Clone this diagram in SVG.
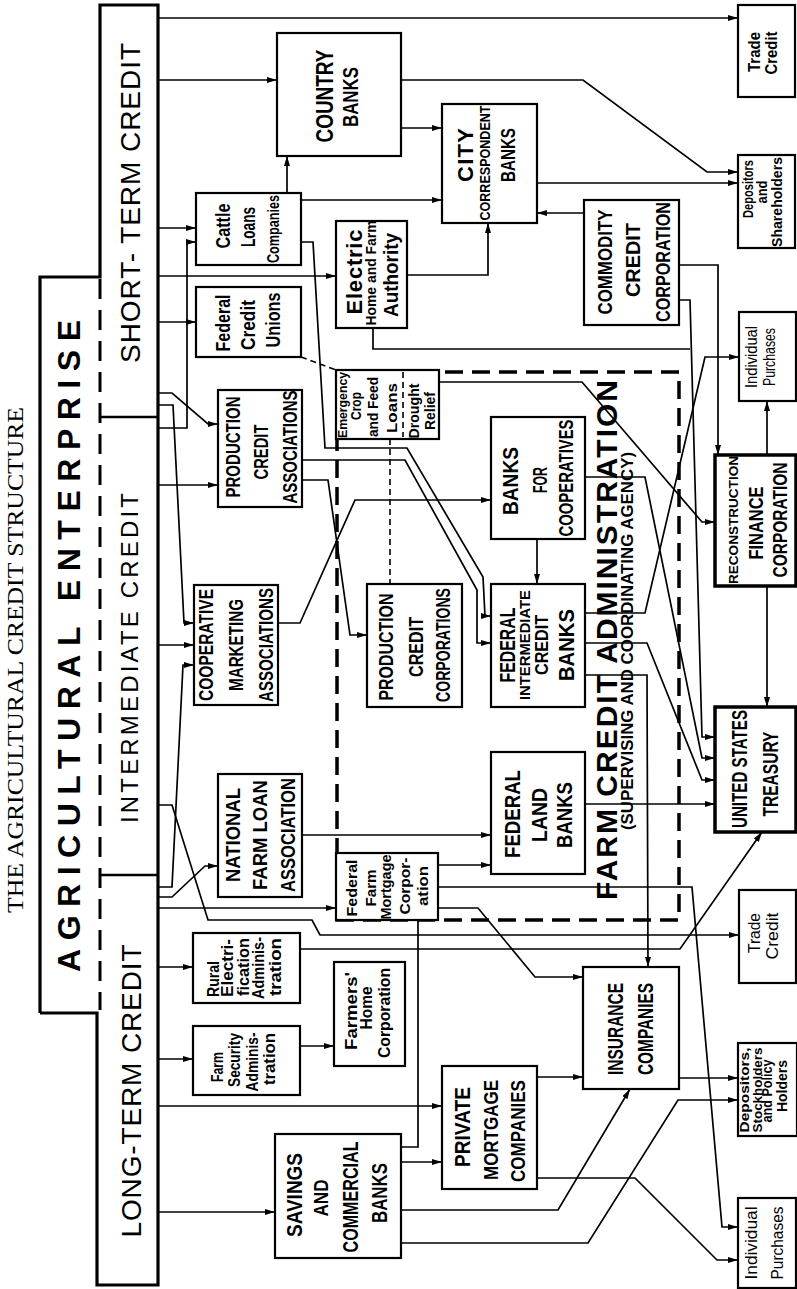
<svg xmlns="http://www.w3.org/2000/svg" width="797" height="1289" viewBox="0 0 797 1289">
<style>
.t{font-family:"Liberation Sans",Arial,sans-serif;text-anchor:middle;fill:#000}
.b{font-weight:bold}
.box{fill:#fff;stroke:#000;stroke-width:2.2}
.thick{stroke-width:3.5}
.c{fill:none;stroke:#000;stroke-width:1.7;marker-end:url(#a)}
.cn{fill:none;stroke:#000;stroke-width:1.7}
.d{fill:none;stroke:#000;stroke-width:1.6;stroke-dasharray:6 4}
</style>
<defs>
<marker id="a" viewBox="0 0 10 6" refX="10" refY="3" markerWidth="10" markerHeight="6" markerUnits="userSpaceOnUse" orient="auto"><path d="M0,0 L10,3 L0,6 Z" fill="#000"/></marker>
</defs>
<rect width="797" height="1289" fill="#fff"/>

<text font-family="Liberation Serif,Times New Roman,serif" font-size="23" text-anchor="middle" textLength="506" lengthAdjust="spacingAndGlyphs" transform="translate(23,660) rotate(-90)">THE AGRICULTURAL CREDIT STRUCTURE</text>

<g id="enterprise">
<path d="M40,1013 V277 H100 V5 H158 V1285 H97 V1013 H40" fill="none" stroke="#000" stroke-width="3.2"/>
<path d="M100,279 V1010" fill="none" stroke="#000" stroke-width="3" stroke-dasharray="20 11"/>
<path d="M100,417 H158 M100,875 H158" fill="none" stroke="#000" stroke-width="2.5"/>
<text class="t b" font-size="32" textLength="652" lengthAdjust="spacing" transform="translate(80,646) rotate(-90)">AGRICULTURAL ENTERPRISE</text>
<text class="t" font-size="28" textLength="320" lengthAdjust="spacing" transform="translate(140,203) rotate(-90)">SHORT- TERM CREDIT</text>
<text class="t" font-size="24" textLength="330" lengthAdjust="spacing" transform="translate(138,658) rotate(-90)">INTERMEDIATE CREDIT</text>
<text class="t" font-size="28" textLength="293" lengthAdjust="spacing" transform="translate(141,1091) rotate(-90)">LONG-TERM CREDIT</text>
</g>

<g id="fca">
<path d="M337,372 H679 V920 H337 Z" fill="none" stroke="#000" stroke-width="3.5" stroke-dasharray="18 9"/>
</g>

<g id="connectors">
<path class="c" d="M158,18 H738"/>
<path class="c" d="M158,80 H277"/>
<path class="c" d="M158,228 H196"/>
<path class="c" d="M158,276 H336"/>
<path class="c" d="M158,322 H196"/>
<path class="c" d="M158,428 H187 V242 H196"/>
<path class="c" d="M158,393 H172 L208,424 H218"/>
<path class="c" d="M158,405 H173 L184,623 H194"/>
<path class="c" d="M158,485 H218"/>
<path class="c" d="M158,645 H194"/>
<path class="c" d="M158,887 H172 L183,665 H194"/>
<path class="c" d="M158,897 H172 L205,866 H218"/>
<path class="c" d="M158,908 H336"/>
<path class="c" d="M158,805 H172 L208,920 H312 L320,935 H739"/>
<path class="c" d="M158,967 H193"/>
<path class="c" d="M158,1059 H193"/>
<path class="c" d="M158,1106 H442"/>
<path class="c" d="M158,1212 H275"/>
<path class="c" d="M401,80 H583 L707,172 H738"/>
<path class="c" d="M401,128 H442"/>
<path class="c" d="M287,193 V156"/>
<path class="c" d="M301,200 H442"/>
<path class="c" d="M301,242 H313 L325,448 H407 L483,577 L485,616 H491"/>
<path class="c" d="M302,460 H405 L477,590 V643 H491"/>
<path class="c" d="M302,480 H328 L350,635 H367"/>
<path class="c" d="M278,623 H300 L355,500 H491"/>
<path class="c" d="M537,539 V584"/>
<path class="c" d="M585,477 H645 L702,758 H715"/>
<path class="c" d="M585,613 H645 L705,357 H739"/>
<path class="c" d="M585,643 H647 L702,780 H715"/>
<path class="c" d="M585,675 H647 L648,967"/>
<path class="c" d="M407,275 H488 V223"/>
<path class="cn" d="M373,328 V349 H690"/>
<path class="c" d="M679,300 H690 L702,737 H715"/>
<path class="c" d="M679,265 H718 V455"/>
<path class="c" d="M584,213 H537"/>
<path class="c" d="M537,183 H738"/>
<path class="d" d="M301,357 L336,370"/>
<path class="d" d="M390,439 V584"/>
<path class="c" d="M439,382 H582 L702,522 H715"/>
<path class="c" d="M767,455 V401"/>
<path class="c" d="M767,586 V707"/>
<path class="c" d="M585,804 H715"/>
<path class="c" d="M302,835 H491"/>
<path class="c" d="M438,865 H491"/>
<path class="c" d="M438,887 H692 L722,1227 H738"/>
<path class="c" d="M438,908 H478 L535,977 H583"/>
<path class="cn" d="M418,920 V1147 H401"/>
<path class="c" d="M300,949 H680 L762,832"/>
<path class="c" d="M300,1046 H334"/>
<path class="c" d="M537,1077 H583"/>
<path class="c" d="M537,1178 H635 L717,1260 H738"/>
<path class="c" d="M679,1078 H738"/>
<path class="c" d="M401,1162 H442"/>
<path class="c" d="M401,1210 H558 L630,1089"/>
<path class="c" d="M401,1243 H588 L678,1100 H738"/>
</g>

<g id="trade-credit-1"><rect class="box" x="738" y="5" width="57" height="92"/>
<text class="t b" font-size="17" textLength="40" lengthAdjust="spacingAndGlyphs" transform="translate(760,52) rotate(-90)">Trade</text>
<text class="t b" font-size="17" textLength="43" lengthAdjust="spacingAndGlyphs" transform="translate(777,53) rotate(-90)">Credit</text></g>

<g id="country-banks"><rect class="box" x="277" y="33" width="124" height="123" stroke-width="2.6"/>
<text class="t b" font-size="24" textLength="93" lengthAdjust="spacingAndGlyphs" transform="translate(333,96) rotate(-90)">COUNTRY</text>
<text class="t b" font-size="22" textLength="60" lengthAdjust="spacingAndGlyphs" transform="translate(358,97) rotate(-90)">BANKS</text></g>

<g id="city-banks"><rect class="box" x="442" y="104" width="95" height="119"/>
<text class="t b" font-size="22" textLength="54" lengthAdjust="spacing" transform="translate(473,155) rotate(-90)">CITY</text>
<text class="t b" font-size="14" textLength="115" lengthAdjust="spacingAndGlyphs" transform="translate(490,163) rotate(-90)">CORRESPONDENT</text>
<text class="t b" font-size="21" textLength="54" lengthAdjust="spacingAndGlyphs" transform="translate(515,155) rotate(-90)">BANKS</text></g>

<g id="depositors-1"><rect class="box" x="738" y="155" width="57" height="93"/>
<text class="t b" font-size="15" textLength="58" lengthAdjust="spacingAndGlyphs" transform="translate(753,189) rotate(-90)">Depositors</text>
<text class="t b" font-size="14" textLength="23" lengthAdjust="spacingAndGlyphs" transform="translate(767,192) rotate(-90)">and</text>
<text class="t b" font-size="15" textLength="90" lengthAdjust="spacingAndGlyphs" transform="translate(782,202) rotate(-90)">Shareholders</text></g>

<g id="ccc"><rect class="box" x="584" y="200" width="95" height="125"/>
<text class="t b" font-size="21" textLength="105" lengthAdjust="spacingAndGlyphs" transform="translate(612,262) rotate(-90)">COMMODITY</text>
<text class="t b" font-size="21" textLength="74" lengthAdjust="spacingAndGlyphs" transform="translate(640,260) rotate(-90)">CREDIT</text>
<text class="t b" font-size="21" textLength="120" lengthAdjust="spacingAndGlyphs" transform="translate(670,262) rotate(-90)">CORPORATION</text></g>

<g id="cattle-loans"><rect class="box" x="196" y="193" width="105" height="72"/>
<text class="t b" font-size="20" textLength="45" lengthAdjust="spacingAndGlyphs" transform="translate(230,226) rotate(-90)">Cattle</text>
<text class="t b" font-size="20" textLength="40" lengthAdjust="spacingAndGlyphs" transform="translate(255,227) rotate(-90)">Loans</text>
<text class="t b" font-size="17" textLength="68" lengthAdjust="spacingAndGlyphs" transform="translate(279,229) rotate(-90)">Companies</text></g>

<g id="electric-home"><rect class="box" x="336" y="221" width="71" height="107"/>
<text class="t b" font-size="22" textLength="85" lengthAdjust="spacing" transform="translate(362,272) rotate(-90)">Electric</text>
<text class="t b" font-size="15" textLength="105" lengthAdjust="spacingAndGlyphs" transform="translate(376,273) rotate(-90)">Home and Farm</text>
<text class="t b" font-size="21" textLength="84" lengthAdjust="spacingAndGlyphs" transform="translate(398,275) rotate(-90)">Authority</text></g>

<g id="federal-credit-unions"><rect class="box" x="196" y="287" width="105" height="70"/>
<text class="t b" font-size="20" textLength="57" lengthAdjust="spacingAndGlyphs" transform="translate(230,323) rotate(-90)">Federal</text>
<text class="t b" font-size="20" textLength="50" lengthAdjust="spacingAndGlyphs" transform="translate(255,325) rotate(-90)">Credit</text>
<text class="t b" font-size="20" textLength="55" lengthAdjust="spacingAndGlyphs" transform="translate(280,320) rotate(-90)">Unions</text></g>

<g id="emergency"><rect class="box" x="336" y="370" width="103" height="69" stroke-width="2.6"/>
<path class="d" d="M403,372 V437"/>
<text class="t b" font-size="12" textLength="66" lengthAdjust="spacingAndGlyphs" transform="translate(347,405) rotate(-90)">Emergency</text>
<text class="t b" font-size="14" textLength="28" lengthAdjust="spacingAndGlyphs" transform="translate(361,406) rotate(-90)">Crop</text>
<text class="t b" font-size="14" textLength="60" lengthAdjust="spacingAndGlyphs" transform="translate(378,407) rotate(-90)">and Feed</text>
<text class="t b" font-size="15" textLength="50" lengthAdjust="spacingAndGlyphs" transform="translate(397,408) rotate(-90)">Loans</text>
<text class="t b" font-size="15" textLength="55" lengthAdjust="spacingAndGlyphs" transform="translate(419,411) rotate(-90)">Drought</text>
<text class="t b" font-size="15" textLength="38" lengthAdjust="spacingAndGlyphs" transform="translate(435,411) rotate(-90)">Relief</text></g>

<g id="pca"><rect class="box" x="218" y="390" width="84" height="117" stroke-width="2.6"/>
<text class="t b" font-size="21" textLength="101" lengthAdjust="spacingAndGlyphs" transform="translate(240,447) rotate(-90)">PRODUCTION</text>
<text class="t b" font-size="21" textLength="55" lengthAdjust="spacingAndGlyphs" transform="translate(268,452) rotate(-90)">CREDIT</text>
<text class="t b" font-size="21" textLength="113" lengthAdjust="spacingAndGlyphs" transform="translate(297,447) rotate(-90)">ASSOCIATIONS</text></g>

<g id="coop-marketing"><rect class="box" x="194" y="585" width="84" height="120"/>
<text class="t b" font-size="20" textLength="112" lengthAdjust="spacingAndGlyphs" transform="translate(213,645) rotate(-90)">COOPERATIVE</text>
<text class="t b" font-size="20" textLength="92" lengthAdjust="spacingAndGlyphs" transform="translate(243,645) rotate(-90)">MARKETING</text>
<text class="t b" font-size="20" textLength="114" lengthAdjust="spacingAndGlyphs" transform="translate(273,645) rotate(-90)">ASSOCIATIONS</text></g>

<g id="banks-cooperatives"><rect class="box" x="491" y="417" width="94" height="122" stroke-width="2.6"/>
<text class="t b" font-size="22" textLength="68" lengthAdjust="spacingAndGlyphs" transform="translate(518,481) rotate(-90)">BANKS</text>
<text class="t b" font-size="21" textLength="26" lengthAdjust="spacingAndGlyphs" transform="translate(547,480) rotate(-90)">FOR</text>
<text class="t b" font-size="20" textLength="117" lengthAdjust="spacingAndGlyphs" transform="translate(573,478) rotate(-90)">COOPERATIVES</text></g>

<g id="pcc"><rect class="box" x="367" y="584" width="95" height="123" stroke-width="2.6"/>
<text class="t b" font-size="21" textLength="107" lengthAdjust="spacingAndGlyphs" transform="translate(393,647) rotate(-90)">PRODUCTION</text>
<text class="t b" font-size="21" textLength="60" lengthAdjust="spacingAndGlyphs" transform="translate(423,647) rotate(-90)">CREDIT</text>
<text class="t b" font-size="21" textLength="114" lengthAdjust="spacingAndGlyphs" transform="translate(450,645) rotate(-90)">CORPORATIONS</text></g>

<g id="ficb"><rect class="box" x="491" y="584" width="94" height="123" stroke-width="2.6"/>
<text class="t b" font-size="22" textLength="75" lengthAdjust="spacingAndGlyphs" transform="translate(515,645) rotate(-90)">FEDERAL</text>
<text class="t b" font-size="14" textLength="110" lengthAdjust="spacingAndGlyphs" transform="translate(530,645) rotate(-90)">INTERMEDIATE</text>
<text class="t b" font-size="19" textLength="60" lengthAdjust="spacingAndGlyphs" transform="translate(548,645) rotate(-90)">CREDIT</text>
<text class="t b" font-size="22" textLength="72" lengthAdjust="spacingAndGlyphs" transform="translate(574,645) rotate(-90)">BANKS</text></g>

<g id="rfc"><rect class="box thick" x="715" y="455" width="81" height="131"/>
<text class="t b" font-size="13" textLength="128" lengthAdjust="spacingAndGlyphs" transform="translate(738,520) rotate(-90)">RECONSTRUCTION</text>
<text class="t b" font-size="20" textLength="73" lengthAdjust="spacingAndGlyphs" transform="translate(763,523) rotate(-90)">FINANCE</text>
<text class="t b" font-size="21" textLength="115" lengthAdjust="spacingAndGlyphs" transform="translate(787,520) rotate(-90)">CORPORATION</text></g>

<g id="individual-purchases-1"><rect class="box" x="739" y="312" width="57" height="89"/>
<text class="t" font-size="16" textLength="62" lengthAdjust="spacingAndGlyphs" transform="translate(757,357) rotate(-90)">Individual</text>
<text class="t" font-size="16" textLength="58" lengthAdjust="spacingAndGlyphs" transform="translate(775,357) rotate(-90)">Purchases</text></g>

<g id="treasury"><rect class="box thick" x="715" y="707" width="81" height="125"/>
<text class="t b" font-size="22" textLength="118" lengthAdjust="spacingAndGlyphs" transform="translate(747,769) rotate(-90)">UNITED STATES</text>
<text class="t b" font-size="22" textLength="85" lengthAdjust="spacingAndGlyphs" transform="translate(778,774) rotate(-90)">TREASURY</text></g>

<g id="nfla"><rect class="box" x="218" y="774" width="84" height="123"/>
<text class="t b" font-size="20" textLength="94" lengthAdjust="spacingAndGlyphs" transform="translate(240,835) rotate(-90)">NATIONAL</text>
<text class="t b" font-size="20" textLength="110" lengthAdjust="spacingAndGlyphs" transform="translate(267,835) rotate(-90)">FARM LOAN</text>
<text class="t b" font-size="20" textLength="114" lengthAdjust="spacingAndGlyphs" transform="translate(295,835) rotate(-90)">ASSOCIATION</text></g>

<g id="flb"><rect class="box" x="491" y="752" width="94" height="122" stroke-width="2.6"/>
<text class="t b" font-size="22" textLength="88" lengthAdjust="spacingAndGlyphs" transform="translate(520,814) rotate(-90)">FEDERAL</text>
<text class="t b" font-size="22" textLength="54" lengthAdjust="spacingAndGlyphs" transform="translate(547,815) rotate(-90)">LAND</text>
<text class="t b" font-size="22" textLength="66" lengthAdjust="spacingAndGlyphs" transform="translate(572,815) rotate(-90)">BANKS</text></g>

<g id="ffmc"><rect class="box" x="336" y="853" width="102" height="67" stroke-width="2.6"/>
<text class="t b" font-size="15" textLength="57" lengthAdjust="spacingAndGlyphs" transform="translate(357,888) rotate(-90)">Federal</text>
<text class="t b" font-size="15" textLength="37" lengthAdjust="spacingAndGlyphs" transform="translate(376,888) rotate(-90)">Farm</text>
<text class="t b" font-size="14" textLength="65" lengthAdjust="spacingAndGlyphs" transform="translate(391,887) rotate(-90)">Mortgage</text>
<text class="t b" font-size="15" textLength="57" lengthAdjust="spacingAndGlyphs" transform="translate(410,886) rotate(-90)">Corpor-</text>
<text class="t b" font-size="15" textLength="40" lengthAdjust="spacingAndGlyphs" transform="translate(428,886) rotate(-90)">ation</text></g>

<g id="trade-credit-2"><rect class="box" x="739" y="890" width="57" height="93"/>
<text class="t" font-size="17" textLength="40" lengthAdjust="spacingAndGlyphs" transform="translate(760,933) rotate(-90)">Trade</text>
<text class="t" font-size="17" textLength="47" lengthAdjust="spacingAndGlyphs" transform="translate(778,936) rotate(-90)">Credit</text></g>

<g id="rea"><rect class="box" x="193" y="933" width="107" height="70"/>
<text class="t b" font-size="17" textLength="36" lengthAdjust="spacingAndGlyphs" transform="translate(219,979) rotate(-90)">Rural</text>
<text class="t b" font-size="17" textLength="58" lengthAdjust="spacingAndGlyphs" transform="translate(233,968) rotate(-90)">Electri-</text>
<text class="t b" font-size="17" textLength="58" lengthAdjust="spacingAndGlyphs" transform="translate(249,967) rotate(-90)">fication</text>
<text class="t b" font-size="17" textLength="62" lengthAdjust="spacingAndGlyphs" transform="translate(264,968) rotate(-90)">Adminis-</text>
<text class="t b" font-size="17" textLength="58" lengthAdjust="spacingAndGlyphs" transform="translate(281,967) rotate(-90)">tration</text></g>

<g id="farmers-home"><rect class="box" x="334" y="962" width="71" height="104"/>
<text class="t b" font-size="17" textLength="78" lengthAdjust="spacingAndGlyphs" transform="translate(357,1011) rotate(-90)">Farmers'</text>
<text class="t b" font-size="17" textLength="43" lengthAdjust="spacingAndGlyphs" transform="translate(372,1008) rotate(-90)">Home</text>
<text class="t b" font-size="17" textLength="90" lengthAdjust="spacingAndGlyphs" transform="translate(390,1013) rotate(-90)">Corporation</text></g>

<g id="fsa"><rect class="box" x="193" y="1026" width="107" height="69"/>
<text class="t b" font-size="17" textLength="30" lengthAdjust="spacingAndGlyphs" transform="translate(223,1067) rotate(-90)">Farm</text>
<text class="t b" font-size="17" textLength="54" lengthAdjust="spacingAndGlyphs" transform="translate(240,1060) rotate(-90)">Security</text>
<text class="t b" font-size="17" textLength="59" lengthAdjust="spacingAndGlyphs" transform="translate(258,1062) rotate(-90)">Adminis-</text>
<text class="t b" font-size="17" textLength="52" lengthAdjust="spacingAndGlyphs" transform="translate(275,1059) rotate(-90)">tration</text></g>

<g id="insurance"><rect class="box" x="583" y="967" width="96" height="122" stroke-width="2.6"/>
<text class="t b" font-size="22" textLength="92" lengthAdjust="spacingAndGlyphs" transform="translate(623,1029) rotate(-90)">INSURANCE</text>
<text class="t b" font-size="22" textLength="92" lengthAdjust="spacingAndGlyphs" transform="translate(653,1029) rotate(-90)">COMPANIES</text></g>

<g id="private-mortgage"><rect class="box" x="442" y="1066" width="95" height="123" stroke-width="2.6"/>
<text class="t b" font-size="22" textLength="80" lengthAdjust="spacingAndGlyphs" transform="translate(470,1127) rotate(-90)">PRIVATE</text>
<text class="t b" font-size="21" textLength="100" lengthAdjust="spacingAndGlyphs" transform="translate(498,1130) rotate(-90)">MORTGAGE</text>
<text class="t b" font-size="21" textLength="102" lengthAdjust="spacingAndGlyphs" transform="translate(525,1131) rotate(-90)">COMPANIES</text></g>

<g id="savings-banks"><rect class="box" x="275" y="1134" width="126" height="124" stroke-width="2.6"/>
<text class="t b" font-size="22" textLength="84" lengthAdjust="spacingAndGlyphs" transform="translate(302,1195) rotate(-90)">SAVINGS</text>
<text class="t b" font-size="20" textLength="37" lengthAdjust="spacingAndGlyphs" transform="translate(328,1198) rotate(-90)">AND</text>
<text class="t b" font-size="22" textLength="111" lengthAdjust="spacingAndGlyphs" transform="translate(358,1197) rotate(-90)">COMMERCIAL</text>
<text class="t b" font-size="22" textLength="60" lengthAdjust="spacingAndGlyphs" transform="translate(387,1193) rotate(-90)">BANKS</text></g>

<g id="depositors-2"><rect class="box" x="738" y="1043" width="59" height="93"/>
<text class="t b" font-size="13" textLength="85" lengthAdjust="spacingAndGlyphs" transform="translate(749,1090) rotate(-90)">Depositors,</text>
<text class="t b" font-size="13" textLength="85" lengthAdjust="spacingAndGlyphs" transform="translate(762,1090) rotate(-90)">Stockholders</text>
<text class="t b" font-size="14" textLength="63" lengthAdjust="spacingAndGlyphs" transform="translate(772,1091) rotate(-90)">and Policy</text>
<text class="t b" font-size="14" textLength="52" lengthAdjust="spacingAndGlyphs" transform="translate(787,1086) rotate(-90)">Holders</text></g>

<g id="individual-purchases-2"><rect class="box" x="738" y="1198" width="58" height="90"/>
<text class="t" font-size="17" textLength="73" lengthAdjust="spacingAndGlyphs" transform="translate(757,1243) rotate(-90)">Individual</text>
<text class="t" font-size="17" textLength="73" lengthAdjust="spacingAndGlyphs" transform="translate(783,1243) rotate(-90)">Purchases</text></g>

<g id="fca-label">
<text class="t b" font-size="30" textLength="520" lengthAdjust="spacing" transform="translate(617,640) rotate(-90)">FARM CREDIT ADMINISTRATION</text>
<text class="t b" font-size="17" textLength="378" lengthAdjust="spacingAndGlyphs" transform="translate(633,641) rotate(-90)">(SUPERVISING AND COORDINATING AGENCY)</text>
</g>
</svg>
